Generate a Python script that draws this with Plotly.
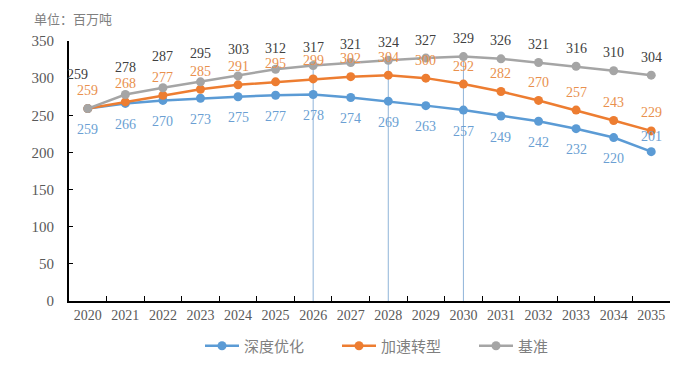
import plotly.graph_objects as go

years = [str(y) for y in range(2020, 2036)]
deep_opt = [259, 266, 270, 273, 275, 277, 278, 274, 269, 263, 257, 249, 242, 232, 220, 201]
accel = [259, 268, 277, 285, 291, 295, 299, 302, 304, 300, 292, 282, 270, 257, 243, 229]
base = [259, 278, 287, 295, 303, 312, 317, 321, 324, 327, 329, 326, 321, 316, 310, 304]
names = ["深度优化", "加速转型", "基准"]
marked_years = ["2026", "2028", "2030"]
y_ticks = [0, 50, 100, 150, 200, 250, 300, 350]

colors = ["#5b9bd5", "#ed7d31", "#a5a5a5"]
label_colors = ["#6b9fd3", "#e9904d", "#404040"]

# label offsets (style only), px
blue_shift = [-21] * 15 + [15]
orange_shift = [18] * 16
gray_shift = [34, 27, 31, 28, 26, 21] + [18] * 10
gray_xshift = [-10] + [0] * 15

fig = go.Figure()
for name, vals, c in zip(names, [deep_opt, accel, base], colors):
    fig.add_trace(go.Scatter(
        x=years, y=vals, name=name, mode="lines+markers",
        line=dict(color=c, width=2.5),
        marker=dict(color=c, size=9),
    ))

annotations = []
for vals, shifts, col, xs in [(deep_opt, blue_shift, label_colors[0], [0] * 16),
                               (accel, orange_shift, label_colors[1], [0] * 16),
                               (base, gray_shift, label_colors[2], gray_xshift)]:
    for i, (v, s, dx) in enumerate(zip(vals, shifts, xs)):
        annotations.append(dict(
            x=i, y=v, xref="x", yref="y", text=str(v), showarrow=False,
            yshift=s, xshift=dx, yanchor="middle", xanchor="center",
            font=dict(family="Liberation Serif", size=14, color=col),
        ))

# page has an 8px body margin; the figure is sized/offset to compensate
OFF = 8
W, H = 686 - OFF, 368 - OFF
L, R, T, B = 69 - OFF, 16, 41 - OFF, 67
PW, PH = W - L - R, H - T - B

annotations.append(dict(
    x=(33 - 69) / PW, y=1 + T / PH, xref="paper", yref="paper",
    text="单位：百万吨", showarrow=False, borderpad=0,
    font=dict(family="Noto Sans CJK SC", size=13, color="#7f7f7f"),
    xanchor="left", yanchor="top",
))

shapes = []
for yr in marked_years:
    i = years.index(yr)
    shapes.append(dict(type="line", xref="x", yref="y", x0=i, x1=i, y0=0, y1=base[i],
                       line=dict(color="#8fb4d9", width=1), layer="below"))

fig.update_layout(
    width=W, height=H,
    margin=dict(l=L, r=R, t=T, b=B, autoexpand=False),
    paper_bgcolor="white", plot_bgcolor="white",
    showlegend=True,
    legend=dict(orientation="h", x=(200 - 69) / PW, xanchor="left",
                y=-(346 - 301) / PH, yanchor="middle",
                font=dict(family="Noto Sans CJK SC", size=15, color="#7f7f7f"),
                itemwidth=34, entrywidth=88, entrywidthmode="pixels",
                traceorder="normal"),
    annotations=annotations,
    shapes=shapes,
    xaxis=dict(type="category", range=[-0.5, len(years) - 0.5], automargin=False,
               tickson="boundaries", ticks="inside", ticklen=5,
               tickcolor="black", showline=True, linecolor="black", linewidth=2,
               showgrid=False, tickangle=0,
               tickfont=dict(family="Liberation Serif", size=14, color="#595959")),
    yaxis=dict(range=[0, 350], tickvals=y_ticks, ticks="inside", ticklen=4,
               automargin=False, ticklabelstandoff=10,
               tickcolor="black", showline=True, linecolor="black", linewidth=2,
               showgrid=False, zeroline=False,
               tickfont=dict(family="Liberation Serif", size=15, color="#595959")),
)

fig.write_html("out.html")
